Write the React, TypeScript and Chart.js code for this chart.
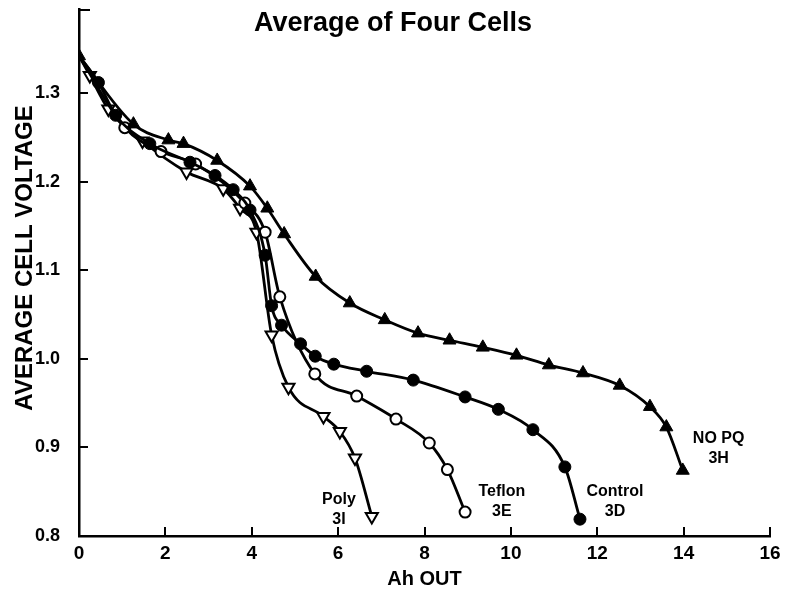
import React, { useEffect, useRef } from 'react';
import { Chart, registerables } from 'chart.js';

Chart.register(...registerables);

// ---- data ----
const START_X = 0;
const START_Y = 1.342;

const noPqX = [0, 1.26, 2.07, 2.42, 3.2, 3.96, 4.36, 4.75, 5.48, 6.27, 7.08, 7.85, 8.58, 9.35, 10.13, 10.88, 11.67, 12.52, 13.22, 13.6, 13.98];
const noPqY = [1.342, 1.265, 1.247, 1.243, 1.224, 1.195, 1.17, 1.141, 1.093, 1.063, 1.044, 1.029, 1.021, 1.013, 1.004, 0.993, 0.984, 0.97, 0.946, 0.923, 0.874];

const controlX = [0.45, 0.85, 1.64, 2.57, 3.15, 3.57, 3.96, 4.31, 4.46, 4.69, 5.13, 5.47, 5.9, 6.66, 7.74, 8.94, 9.71, 10.51, 11.25, 11.6];
const controlY = [1.312, 1.275, 1.243, 1.222, 1.207, 1.191, 1.168, 1.117, 1.06, 1.038, 1.017, 1.003, 0.994, 0.986, 0.976, 0.957, 0.943, 0.92, 0.878, 0.819];

const teflonX = [1.06, 1.9, 2.7, 3.84, 4.31, 4.65, 5.46, 6.43, 7.34, 8.11, 8.53, 8.94];
const teflonY = [1.261, 1.234, 1.22, 1.176, 1.143, 1.07, 0.983, 0.958, 0.932, 0.905, 0.875, 0.827];

const polyX = [0.25, 0.68, 1.47, 2.49, 3.34, 3.73, 4.11, 4.46, 4.85, 5.66, 6.04, 6.39, 6.78];
const polyY = [1.32, 1.282, 1.246, 1.211, 1.192, 1.17, 1.143, 1.027, 0.968, 0.935, 0.918, 0.888, 0.822];

const xTicks = [0, 2, 4, 6, 8, 10, 12, 14, 16];
const yTicks = [0.8, 0.9, 1.0, 1.1, 1.2, 1.3];

const TITLE = 'Average of Four Cells';
const X_TITLE = 'Ah OUT';
const Y_TITLE = 'AVERAGE CELL VOLTAGE';

const labelNames = [['Poly', '3I'], ['Teflon', '3E'], ['Control', '3D'], ['NO PQ', '3H']];
const labelX = [6.02, 9.79, 12.41, 14.81];
const labelY = [0.8406, 0.8507, 0.8496, 0.91];

const FONT = "'Liberation Sans', Arial, Helvetica, sans-serif";

function toPoints(xs: number[], ys: number[], withStart: boolean) {
  const pts = xs.map((x, i) => ({ x, y: ys[i] }));
  if (withStart) pts.unshift({ x: START_X, y: START_Y });
  return pts;
}

const overlayPlugin = {
  id: 'overlay',
  afterDraw(chart: any) {
    const { ctx, chartArea, scales } = chart;
    const xs = scales.x;
    const ys = scales.y;
    ctx.save();
    ctx.strokeStyle = '#000';
    ctx.lineWidth = 2;
    xTicks.forEach((v) => {
      const px = Math.round(xs.getPixelForValue(v));
      ctx.beginPath();
      ctx.moveTo(px, chartArea.bottom);
      ctx.lineTo(px, chartArea.bottom - 9);
      ctx.stroke();
    });
    yTicks.forEach((v) => {
      const py = Math.round(ys.getPixelForValue(v));
      ctx.beginPath();
      ctx.moveTo(chartArea.left, py);
      ctx.lineTo(chartArea.left + 9, py);
      ctx.stroke();
    });
    ctx.beginPath();
    ctx.moveTo(chartArea.left, chartArea.top + 1);
    ctx.lineTo(chartArea.left + 11, chartArea.top + 1);
    ctx.stroke();

    ctx.fillStyle = '#000';
    ctx.textAlign = 'center';
    ctx.textBaseline = 'middle';
    ctx.font = `bold 27px ${FONT}`;
    ctx.fillText(TITLE, 393, 24);

    // y axis title
    ctx.save();
    ctx.translate(25, 258);
    ctx.rotate(-Math.PI / 2);
    ctx.font = `bold 24px ${FONT}`;
    ctx.fillText(Y_TITLE, 0, 0);
    ctx.restore();

    ctx.font = `bold 16px ${FONT}`;
    labelNames.forEach((lines, i) => {
      const px = xs.getPixelForValue(labelX[i]);
      const py = ys.getPixelForValue(labelY[i]);
      lines.forEach((t, k) => {
        ctx.fillText(t, px, py + k * 20);
      });
    });
    ctx.restore();
  },
};

export default function App() {
  const ref = useRef<HTMLCanvasElement | null>(null);

  useEffect(() => {
    if (!ref.current) return;
    const common = {
      showLine: true,
      borderColor: '#000',
      borderWidth: 2.8,
      cubicInterpolationMode: 'monotone' as const,
      pointBorderColor: '#000',
    };
    const chart = new Chart(ref.current, {
      type: 'scatter',
      data: {
        datasets: [
          {
            ...common,
            label: 'NO PQ 3H',
            data: toPoints(noPqX, noPqY, false),
            pointStyle: 'triangle',
            pointRadius: 7.5,
            pointBackgroundColor: '#000',
            pointBorderWidth: 1,
          },
          {
            ...common,
            label: 'Control 3D',
            data: toPoints(controlX, controlY, true),
            pointStyle: 'circle',
            pointRadius: (c: any) => (c.dataIndex === 0 ? 0 : 6),
            pointBackgroundColor: '#000',
            pointBorderWidth: 1,
          },
          {
            ...common,
            label: 'Teflon 3E',
            data: toPoints(teflonX, teflonY, true),
            pointStyle: 'circle',
            pointRadius: (c: any) => (c.dataIndex === 0 ? 0 : 5.5),
            pointBackgroundColor: '#fff',
            pointBorderWidth: 2,
          },
          {
            ...common,
            label: 'Poly 3I',
            data: toPoints(polyX, polyY, true),
            pointStyle: 'triangle',
            pointRotation: 180,
            pointRadius: (c: any) => (c.dataIndex === 0 ? 0 : 7),
            pointBackgroundColor: '#fff',
            pointBorderWidth: 2,
          },
        ] as any,
      },
      options: {
        animation: false,
        responsive: false,
        maintainAspectRatio: false,
        layout: { padding: { left: 0, right: 19, top: 8, bottom: 0 } },
        plugins: { legend: { display: false }, tooltip: { enabled: false } },
        scales: {
          x: {
            type: 'linear',
            min: 0,
            max: 16,
            afterFit: (s: any) => { s.height = 61; s.paddingLeft = 0; s.paddingRight = 0; },
            grid: { display: false, drawTicks: false },
            border: { display: true, color: '#000', width: 2.5 },
            ticks: {
              stepSize: 2,
              padding: 6,
              color: '#000',
              font: { family: FONT, size: 19, weight: 'bold' },
              callback: (v: any) => String(v),
            },
            title: {
              display: true,
              text: X_TITLE,
              color: '#000',
              font: { family: FONT, size: 20, weight: 'bold' },
              padding: { top: 0, bottom: 6 },
            },
          },
          y: {
            type: 'linear',
            min: 0.8,
            max: 1.395,
            afterFit: (s: any) => { s.width = 79; s.paddingTop = 0; s.paddingBottom = 0; },
            grid: { display: false, drawTicks: false },
            border: { display: true, color: '#000', width: 2.5 },
            ticks: {
              stepSize: 0.1,
              includeBounds: false,
              padding: 19,
              color: '#000',
              font: { family: FONT, size: 18, weight: 'bold' },
              callback: (v: any) => Number(v).toFixed(1),
            },
            title: { display: false },
          },
        },
      } as any,
      plugins: [overlayPlugin],
    });
    return () => chart.destroy();
  }, []);

  return (
    <div style={{ position: 'absolute', left: 0, top: 0, width: 789, height: 597, background: '#fff' }}>
      <canvas ref={ref} width={789} height={597} style={{ width: 789, height: 597 }} />
    </div>
  );
}
